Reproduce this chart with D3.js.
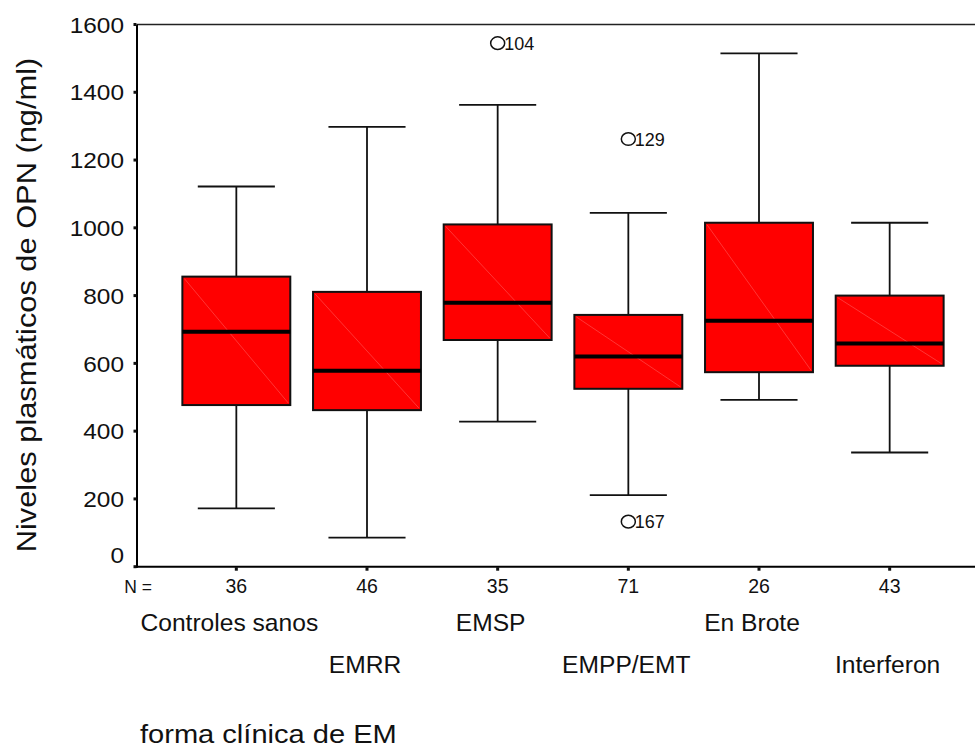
<!DOCTYPE html>
<html>
<head>
<meta charset="utf-8">
<script src="https://cdn.jsdelivr.net/npm/d3@7"></script>
<style>
  body { margin: 0; background: #fff; }
  svg { display: block; font-family: "Liberation Sans", Arial, sans-serif; }
</style>
</head>
<body>
<svg width="975" height="753"></svg>
<script>
const categories = ["Controles sanos", "EMRR", "EMSP", "EMPP/EMT", "En Brote", "Interferon"];
const nCounts = [36, 46, 35, 71, 26, 43];
const whiskerLow = [172, 86, 428, 211, 492, 337];
const q1 = [477, 462, 669, 525, 574, 593];
const medians = [693, 578, 779, 620, 726, 659];
const q3 = [856, 811, 1010, 743, 1015, 800];
const whiskerHigh = [1122, 1298, 1363, 1044, 1515, 1015];
const outliers = [
  { cat: "EMSP", value: 1545, id: "104" },
  { cat: "EMPP/EMT", value: 1262, id: "129" },
  { cat: "EMPP/EMT", value: 133, id: "167" },
];
const yTicks = [0, 200, 400, 600, 800, 1000, 1200, 1400, 1600];

const svg = d3.select("svg");
const axisLeft = 137;
const plotRight = 975;

const y = d3.scaleLinear().domain([0, 1600]).range([566.7, 24.5]);
const x = d3.scaleBand().domain(categories).range([171, 955]);
const step = x.bandwidth();
const boxW = step * 0.826;
const capW = step * 0.59;
const cx = (c) => x(c) + step / 2;

const boxes = categories.map((c, i) => ({
  cat: c, lo: whiskerLow[i], q1: q1[i], med: medians[i], q3: q3[i], hi: whiskerHigh[i], n: nCounts[i], i,
}));

// frame
svg.append("line")
  .attr("x1", axisLeft).attr("x2", plotRight)
  .attr("y1", y(1600)).attr("y2", y(1600))
  .attr("stroke", "#222").attr("stroke-width", 1.5);

const g = svg.append("g");

// whiskers
g.selectAll("line.stem-hi").data(boxes).enter().append("line")
  .attr("x1", d => cx(d.cat)).attr("x2", d => cx(d.cat))
  .attr("y1", d => y(d.q3)).attr("y2", d => y(d.hi))
  .attr("stroke", "#111").attr("stroke-width", 1.8);
g.selectAll("line.stem-lo").data(boxes).enter().append("line")
  .attr("x1", d => cx(d.cat)).attr("x2", d => cx(d.cat))
  .attr("y1", d => y(d.q1)).attr("y2", d => y(d.lo))
  .attr("stroke", "#111").attr("stroke-width", 1.8);
g.selectAll("line.cap-hi").data(boxes).enter().append("line")
  .attr("x1", d => cx(d.cat) - capW / 2).attr("x2", d => cx(d.cat) + capW / 2)
  .attr("y1", d => y(d.hi)).attr("y2", d => y(d.hi))
  .attr("stroke", "#111").attr("stroke-width", 1.8);
g.selectAll("line.cap-lo").data(boxes).enter().append("line")
  .attr("x1", d => cx(d.cat) - capW / 2).attr("x2", d => cx(d.cat) + capW / 2)
  .attr("y1", d => y(d.lo)).attr("y2", d => y(d.lo))
  .attr("stroke", "#111").attr("stroke-width", 1.8);

// boxes
g.selectAll("rect.box").data(boxes).enter().append("rect")
  .attr("class", "box")
  .attr("x", d => cx(d.cat) - boxW / 2)
  .attr("width", boxW)
  .attr("y", d => y(d.q3))
  .attr("height", d => y(d.q1) - y(d.q3))
  .attr("fill", "#ff0000")
  .attr("stroke", "#111").attr("stroke-width", 2);

// faint diagonal seen in the original rendering
g.selectAll("line.diag").data(boxes).enter().append("line")
  .attr("x1", d => cx(d.cat) - boxW / 2 + 2).attr("x2", d => cx(d.cat) + boxW / 2 - 2)
  .attr("y1", d => y(d.q3) + 2).attr("y2", d => y(d.q1) - 2)
  .attr("stroke", "#ff8080").attr("stroke-width", 0.6).attr("opacity", 0.7);

// medians
g.selectAll("line.median").data(boxes).enter().append("line")
  .attr("x1", d => cx(d.cat) - boxW / 2).attr("x2", d => cx(d.cat) + boxW / 2)
  .attr("y1", d => y(d.med)).attr("y2", d => y(d.med))
  .attr("stroke", "#000").attr("stroke-width", 4);

// outliers
const out = g.selectAll("g.outlier").data(outliers).enter().append("g")
  .attr("transform", d => `translate(${cx(d.cat)},${y(d.value)})`);
out.append("ellipse").attr("rx", 7).attr("ry", 6.3)
  .attr("fill", "none").attr("stroke", "#111").attr("stroke-width", 1.5);
out.append("text").attr("x", 6.5).attr("dy", "0.36em")
  .attr("font-size", 18).attr("fill", "#111").text(d => d.id);

// y axis
svg.append("line")
  .attr("x1", axisLeft).attr("x2", axisLeft)
  .attr("y1", y(1600)).attr("y2", y(0) + 1)
  .attr("stroke", "#000").attr("stroke-width", 2);
svg.selectAll("rect.ytick").data(yTicks).enter().append("rect")
  .attr("x", axisLeft - 3.5).attr("y", d => y(d) - 1.5)
  .attr("width", 3).attr("height", 3).attr("fill", "#111");
// labels are a little wider than tall in the original, hence the stretch
svg.selectAll("text.ytick").data(yTicks).enter().append("text")
  .attr("transform", d => `translate(124,${y(d) - (d === 0 ? 12 : 0)}) scale(1.08,1)`)
  .attr("dy", "0.36em")
  .attr("text-anchor", "end")
  .attr("font-size", 22.6)
  .attr("fill", "#111")
  .text(d => d);

// x axis
svg.append("line")
  .attr("x1", axisLeft - 1).attr("x2", plotRight)
  .attr("y1", y(0)).attr("y2", y(0))
  .attr("stroke", "#000").attr("stroke-width", 2);
svg.selectAll("rect.xtick").data(categories).enter().append("rect")
  .attr("x", d => cx(d) - 1.5).attr("y", y(0) + 0.5)
  .attr("width", 3).attr("height", 3.5).attr("fill", "#111");

// N row
svg.append("text").attr("x", 138).attr("y", 593)
  .attr("text-anchor", "middle").attr("font-size", 17.5).attr("fill", "#111").text("N =");
svg.selectAll("text.n").data(boxes).enter().append("text")
  .attr("x", d => cx(d.cat)).attr("y", 593)
  .attr("text-anchor", "middle").attr("font-size", 19.5).attr("fill", "#111")
  .text(d => d.n);

// category labels, staggered on two rows
svg.selectAll("text.cat").data(boxes).enter().append("text")
  .attr("x", d => cx(d.cat) - (d.i % 2 === 0 ? 7 : 2))
  .attr("y", d => (d.i % 2 === 0 ? 631 : 673))
  .attr("text-anchor", "middle").attr("font-size", 24.6).attr("fill", "#111")
  .text(d => d.cat);

// axis titles
svg.append("text")
  .attr("transform", "translate(140,743) scale(1.14,1)")
  .attr("font-size", 25.5).attr("fill", "#111").text("forma clínica de EM");
svg.append("text")
  .attr("transform", "translate(36,305) rotate(-90) scale(1.1,1)")
  .attr("text-anchor", "middle").attr("font-size", 28).attr("fill", "#111")
  .text("Niveles plasmáticos de OPN (ng/ml)");
</script>
</body>
</html>
